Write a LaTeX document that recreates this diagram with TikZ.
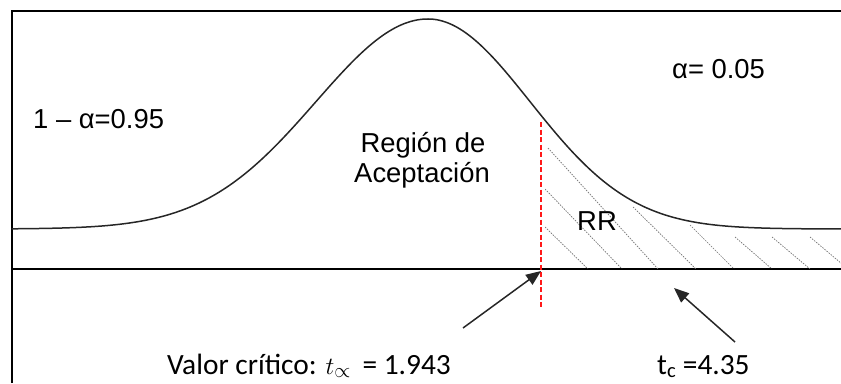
\documentclass[tikz,border=0pt]{standalone}
\usepackage{fontspec}
\setmainfont{Liberation Sans}
\newfontfamily\calib{Carlito}
\usetikzlibrary{arrows.meta}
\begin{document}
\begin{tikzpicture}[x=1bp,y=-1bp,
  frameline/.style={line width=2bp,black},
  curveline/.style={line width=1.5bp,black!85,line cap=round},
  hatchline/.style={line width=0.7bp,black!55,dash pattern=on 1.5bp off 1.2bp},
  critline/.style={line width=1.2bp,red!90,dash pattern=on 5bp off 2.5bp},
  pointer/.style={line width=1.5bp,black!85,-{Triangle[length=15bp,width=12bp]}},
  arialtext/.style={inner sep=0pt,font=\fontsize{27.5}{31}\selectfont},
  calibtext/.style={inner sep=0pt,font=\calib\fontsize{29.5}{33}\selectfont}]
\useasboundingbox (0,0) rectangle (841,383);
% frame (top and left) and axis
\draw[frameline] (12,383) -- (12,10.5) -- (841,10.5);
\draw[frameline] (12,269) -- (841,269);
% hatching of the rejection region
\begin{scope}
\clip (545,100) rectangle (841,268);
\foreach \xa/\ya/\xb in {545/227/588, 545/189/622, 548/148/658, 633/207/696, 690/225/734, 735/237/772, 772/237/810, 810/237/848}
  \draw[hatchline] (\xa,\ya) -- (\xb,269);
\end{scope}
% curve
\draw[curveline] plot[domain=12:428,samples=140,smooth] (\x,{229-210*exp(-0.5*((\x-428)/112)*((\x-428)/112))});
\draw[curveline] plot[domain=428:841,samples=140,smooth] (\x,{229-210*exp(-0.5*((\x-428)/102)*((\x-428)/102))});
% critical value line
\coordinate (ctop) at (541,122);
\coordinate (cbot) at (541,308);
\draw[critline] (ctop) -- (cbot);
% texts
\node[arialtext,anchor=base west] (conf) at (33,128) {1 – α=0.95};
\node[arialtext,anchor=base west] (alpha) at (672,78) {α= 0.05};
\node[arialtext,anchor=base] (reg1) at (423,152) {Región de};
\node[arialtext,anchor=base] (reg2) at (422,182) {Aceptación};
\node[arialtext,anchor=base] (rr) at (597,230) {RR};
\node[calibtext,anchor=base west] (valor) at (167,374) {Valor crítico: $t_{\propto}$\, = 1.943};
\node[calibtext,anchor=base west] (tc) at (657,374) {t\textsubscript{c} =4.35};
% arrows
\coordinate (a1s) at (463,328);
\coordinate (a1e) at (541,271);
\coordinate (a2s) at (735,342);
\coordinate (a2e) at (674,288);
\draw[pointer] (a1s) -- (a1e);
\draw[pointer] (a2s) -- (a2e);
\end{tikzpicture}
\end{document}
